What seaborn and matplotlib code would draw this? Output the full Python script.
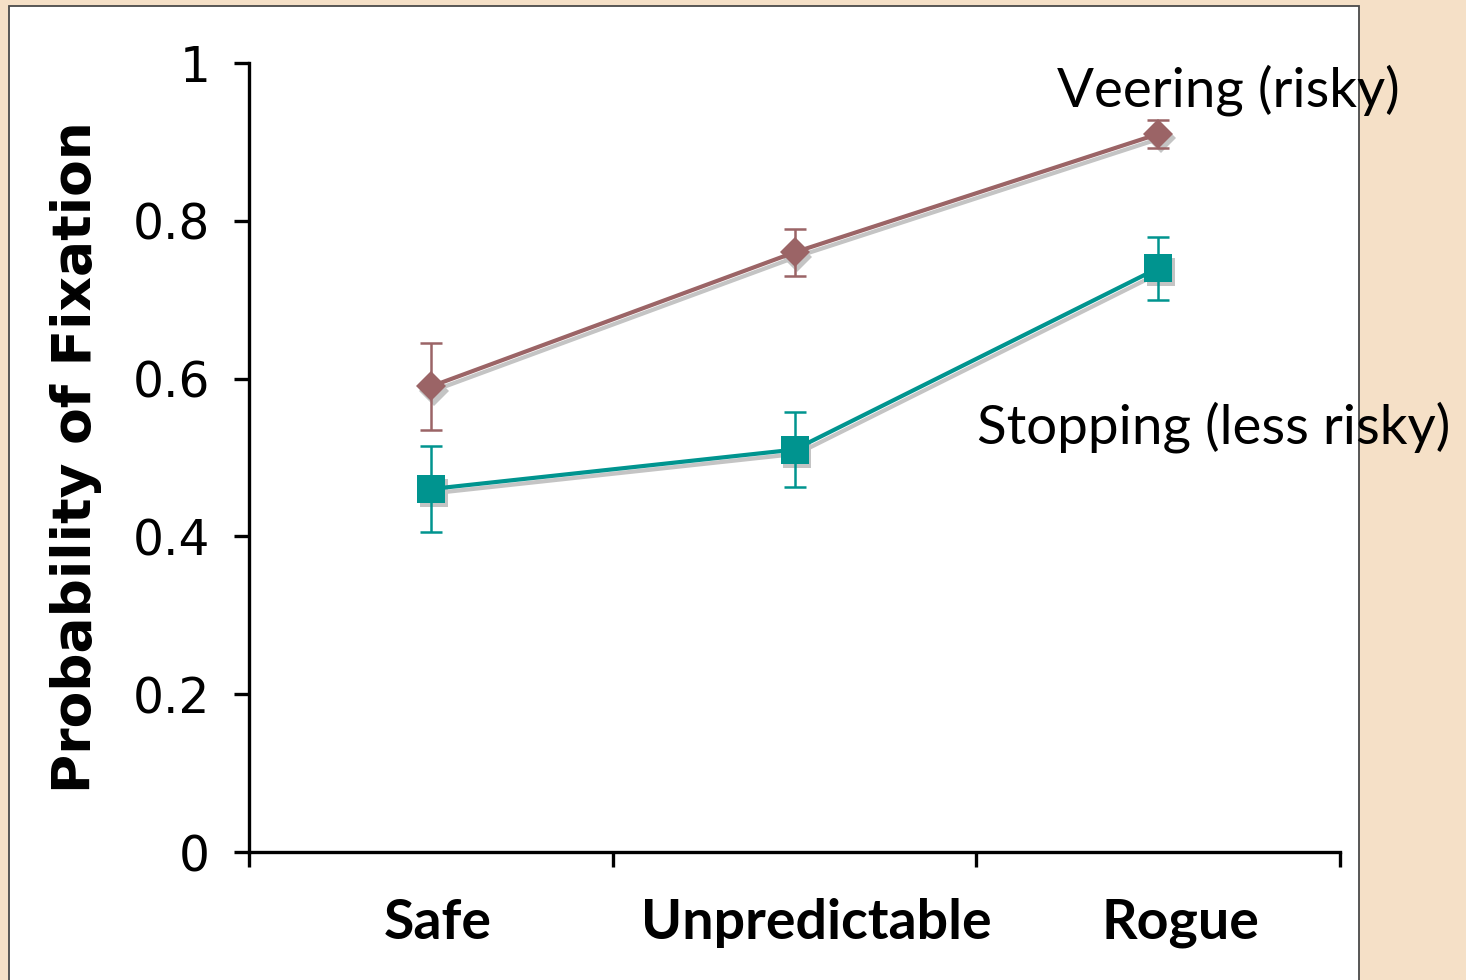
import matplotlib
matplotlib.use("Agg")
import matplotlib.pyplot as plt
import matplotlib.transforms as mtransforms
from matplotlib.patches import Rectangle
import numpy as np
import pandas as pd
import seaborn as sns

# Probability of fixation by hazard condition
conditions = ["Safe", "Unpredictable", "Rogue"]
veering = [0.59, 0.76, 0.91]
veering_err = [0.055, 0.03, 0.018]
stopping = [0.46, 0.51, 0.74]
stopping_err = [0.055, 0.048, 0.04]
series_names = ["Veering (risky)", "Stopping (less risky)"]
y_ticks = [0, 0.2, 0.4, 0.6, 0.8, 1]
y_tick_labels = ["0", "0.2", "0.4", "0.6", "0.8", "1"]

df = pd.DataFrame({
    "condition": conditions * 2,
    "prob": veering + stopping,
    "err": veering_err + stopping_err,
    "series": [series_names[0]] * 3 + [series_names[1]] * 3,
})

colors = {series_names[0]: "#9B6466", series_names[1]: "#00948F"}
markers = {series_names[0]: "D", series_names[1]: "s"}
msizes = {series_names[0]: 15, series_names[1]: 20}

sns.set_style("ticks")
plt.rcParams["font.family"] = ["DejaVu Sans"]
plt.rcParams["text.color"] = "black"
plt.rcParams["xtick.color"] = "black"
plt.rcParams["ytick.color"] = "black"
plt.rcParams["axes.labelcolor"] = "black"

fig = plt.figure(figsize=(14.66, 9.8), dpi=100)
fig.patch.set_facecolor("#F5E0C7")
# white slide panel behind the chart
panel = Rectangle((9 / 1466, -0.05), 1350 / 1466, 1.05 - 6 / 980,
                  transform=fig.transFigure, facecolor="white",
                  edgecolor="#4a4a4a", linewidth=1.3, zorder=-5)
fig.patches.append(panel)

ax = fig.add_axes([249 / 1466, 1 - 852 / 980, 1091 / 1466, 789 / 980])
ax.set_facecolor("none")
ax.set_zorder(1)

shadow = ax.transData + mtransforms.ScaledTranslation(2 / 72, -3 / 72, fig.dpi_scale_trans)

for name in series_names:
    sub = df[df["series"] == name]
    # drop shadow under each series
    sns.lineplot(data=sub, x="condition", y="prob", ax=ax, color="#C4C4C4",
                 marker=markers[name], markersize=msizes[name], markeredgewidth=0,
                 linewidth=3, legend=False, transform=shadow, zorder=2)
    ax.errorbar(np.arange(len(conditions)), sub["prob"], yerr=sub["err"],
                fmt="none", ecolor=colors[name], elinewidth=1.8, capsize=8,
                capthick=1.8, zorder=3)
    sns.lineplot(data=sub, x="condition", y="prob", ax=ax, color=colors[name],
                 marker=markers[name], markersize=msizes[name], markeredgewidth=0,
                 linewidth=3, legend=False, zorder=4)

ax.set_xlim(-0.5, 2.5)
ax.set_ylim(0, 1)
ax.set_yticks(y_ticks)
ax.set_yticklabels(y_tick_labels, fontsize=35)
ax.set_xticks([-0.5, 0.5, 1.5, 2.5])
ax.set_xticklabels([])
ax.set_xticks(np.arange(len(conditions)), labels=conditions, minor=True)
ax.tick_params(axis="x", which="minor", length=0, pad=33,
               labelsize=40)
# category labels sit a little right of their centres
for lab, dx in zip(ax.get_xticklabels(minor=True), (5, 16, 16)):
    lab.set_family("Lato")
    lab.set_fontweight("bold")
    lab.set_transform(lab.get_transform()
                      + mtransforms.ScaledTranslation(dx / 72, 0, fig.dpi_scale_trans))
ax.tick_params(axis="both", which="major", length=11, width=2.4, color="black",
               direction="out")
ax.tick_params(axis="y", pad=17)
ax.set_xlabel("")
ax.set_ylabel("Probability of Fixation", fontsize=38.5, fontweight="bold", labelpad=22)

sns.despine(ax=ax)
for side in ("left", "bottom"):
    ax.spines[side].set_linewidth(2.4)
    ax.spines[side].set_color("black")

ax.text(0.7406, 0.966, series_names[0], transform=ax.transAxes, fontsize=39.3,
        family="Lato", va="center", ha="left", clip_on=False, zorder=6)
ax.text(0.667, 0.539, series_names[1], transform=ax.transAxes, fontsize=39.4,
        family="Lato", va="center", ha="left", clip_on=False, zorder=6)

fig.savefig("out.png", dpi=100, facecolor=fig.get_facecolor())
